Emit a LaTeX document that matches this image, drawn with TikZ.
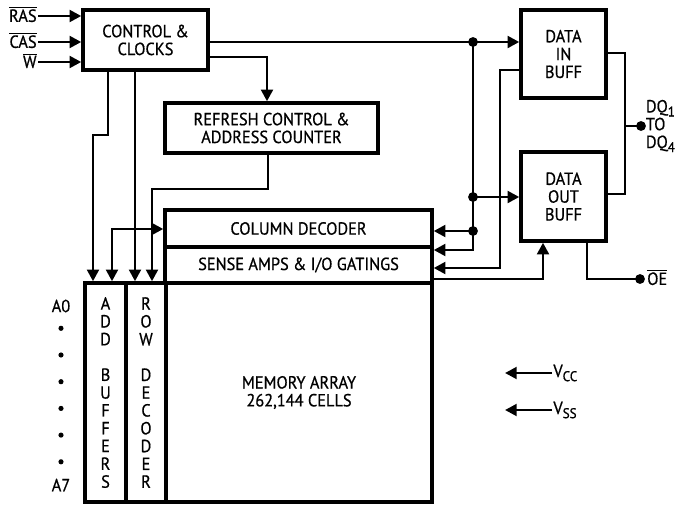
\documentclass[tikz,border=0pt]{standalone}
\usepackage{fontspec}
\setmainfont{PT Sans}[FakeBold=0.7, FakeStretch=0.93]
\usetikzlibrary{arrows.meta}

\tikzset{
  blk/.style = {draw, line width=2.9pt, inner sep=0pt, align=center},
  wire/.style = {line width=2.4pt},
  arr/.style = {wire, -{Triangle[length=10pt,width=10pt]}},
  arrboth/.style = {wire, {Triangle[length=10pt,width=10pt]}-{Triangle[length=10pt,width=10pt]}},
  lbl/.style = {inner sep=1pt, align=left},
}
\newcommand{\lowsub}[1]{\raisebox{-3.5pt}{\fontsize{12}{12}\selectfont #1}}

\begin{document}
\begin{tikzpicture}[x=0.03cm, y=-0.03cm, font=\fontsize{15}{15.2}\selectfont]
    \useasboundingbox (0,0) rectangle (677,504);

    % Blocks
    \node[blk, minimum width=3.75cm, minimum height=1.8cm] (ctrl) at (145.5,40) {CONTROL \&\\CLOCKS};
    \node[blk, minimum width=6.39cm, minimum height=1.5cm] (refresh) at (271.5,128) {REFRESH CONTROL \&\\ADDRESS COUNTER};
    \node[blk, minimum width=2.55cm, minimum height=2.64cm] (datain) at (563.5,54) {DATA\\IN\\BUFF};
    \node[blk, minimum width=2.55cm, minimum height=2.67cm] (dataout) at (563.5,196.5) {DATA\\OUT\\BUFF};
    \node[blk, minimum width=8.01cm, minimum height=1.11cm] (coldec) at (298.5,228.5) {COLUMN DECODER};
    \node[blk, minimum width=8.01cm, minimum height=1.08cm] (sense) at (298.5,265) {SENSE AMPS \& I/O GATINGS};
    \node[blk, minimum width=7.98cm, minimum height=6.57cm] (memarr) at (299,392.5) {MEMORY ARRAY\\262,144 CELLS};
    \node[blk, minimum width=1.23cm, minimum height=6.57cm] (addbuf) at (105.5,392.5) {A\\D\\D\\\mbox{}\\B\\U\\F\\F\\E\\R\\S};
    \node[blk, minimum width=1.2cm, minimum height=6.57cm] (rowdec) at (146,392.5) {R\\O\\W\\\mbox{}\\D\\E\\C\\O\\D\\E\\R};

    % Clock inputs
    \coordinate (iras) at (38,16);
    \coordinate (icas) at (38,42);
    \coordinate (iw) at (38,62);
    \node[lbl, anchor=base east] (ras) at ([yshift=-5pt]iras) {$\overline{\mbox{RAS}}$};
    \node[lbl, anchor=base east] (cas) at ([yshift=-5pt]icas) {$\overline{\mbox{CAS}}$};
    \node[lbl, anchor=base east] (w) at ([yshift=-5pt]iw) {$\overline{\mbox{W}}$};
    \draw[arr] (iras) -- (iras -| ctrl.west);
    \draw[arr] (icas) -- (icas -| ctrl.west);
    \draw[arr] (iw) -- (iw -| ctrl.west);

    % Control to data buffers and decoders
    \coordinate (j1) at (473,42);
    \coordinate (j2) at (473,197);
    \coordinate (j3) at (473,231);
    \coordinate (k1) at (473,250);
    \draw[arr] (ctrl.east |- j1) -- (datain.west |- j1);
    \draw[arr] (j1) -- (k1) -- (sense.east |- k1);
    \draw[arr] (j2) -- (dataout.west |- j2);
    \draw[arr] (j3) -- (coldec.east |- j3);
    \foreach \j in {j1,j2,j3}
        \fill (\j) circle (4.2pt);

    % Data in to sense amps
    \coordinate (k2) at (500,70);
    \coordinate (k3) at (500,268);
    \draw[arr] (datain.west |- k2) -- (k2) -- (k3) -- (sense.east |- k3);

    % Sense amps to data out
    \coordinate (k4) at (543,279);
    \draw[arr] (sense.east |- k4) -- (k4) -- (k4 |- dataout.south);

    % Output enable
    \coordinate (k5) at (587,279);
    \coordinate (oedot) at (640,279);
    \draw[wire] (k5 |- dataout.south) -- (k5) -- (oedot);
    \fill (oedot) circle (4.2pt);
    \node[lbl, anchor=base west] (oe) at ([xshift=5pt, yshift=-5pt]oedot) {$\overline{\mbox{OE}}$};

    % Data pins
    \coordinate (k6) at (625,53);
    \coordinate (k7) at (625,194);
    \coordinate (k8) at (625,126);
    \coordinate (dqdot) at (641,126);
    \draw[wire] (datain.east |- k6) -- (k6) -- (k7) -- (dataout.east |- k7);
    \draw[wire] (k8) -- (dqdot);
    \fill (dqdot) circle (4.2pt);
    \node[lbl, anchor=west] (dq) at ([xshift=3pt]dqdot) {DQ\lowsub{1}\\TO\\DQ\lowsub{4}};

    % Control to refresh
    \coordinate (k9) at (267,57);
    \draw[arr] (ctrl.east |- k9) -- (k9) -- (k9 |- refresh.north);

    % Refresh to row decoder
    \coordinate (k10) at (268,189);
    \coordinate (k11) at (152,189);
    \draw[arr] (k10 |- refresh.south) -- (k10) -- (k11) -- (k11 |- rowdec.north);

    % Control to address buffers and row decoder
    \coordinate (k12) at (108,135);
    \coordinate (k13) at (93,135);
    \coordinate (k14) at (135,70);
    \draw[arr] (k12 |- ctrl.south) -- (k12) -- (k13) -- (k13 |- addbuf.north);
    \draw[arr] (k14 |- ctrl.south) -- (k14 |- rowdec.north);

    % Address buffers to column decoder
    \coordinate (k15) at (112,229);
    \draw[arrboth] (k15 |- addbuf.north) -- (k15) -- (coldec.west |- k15);

    % Address pins
    \node (a0) at (61,306) {A0};
    \node (a7) at (61,485) {A7};
    \foreach \i in {0,...,5}
        \fill (61,328.3+26.7*\i) circle (2.2pt);

    % Supplies
    \coordinate (pcc) at (505,373);
    \coordinate (pss) at (505,410);
    \node[lbl, anchor=west] (vcc) at (552,373) {V\lowsub{CC}};
    \node[lbl, anchor=west] (vss) at (552,410) {V\lowsub{SS}};
    \draw[arr] (vcc.west) -- (pcc);
    \draw[arr] (vss.west) -- (pss);
\end{tikzpicture}
\end{document}
